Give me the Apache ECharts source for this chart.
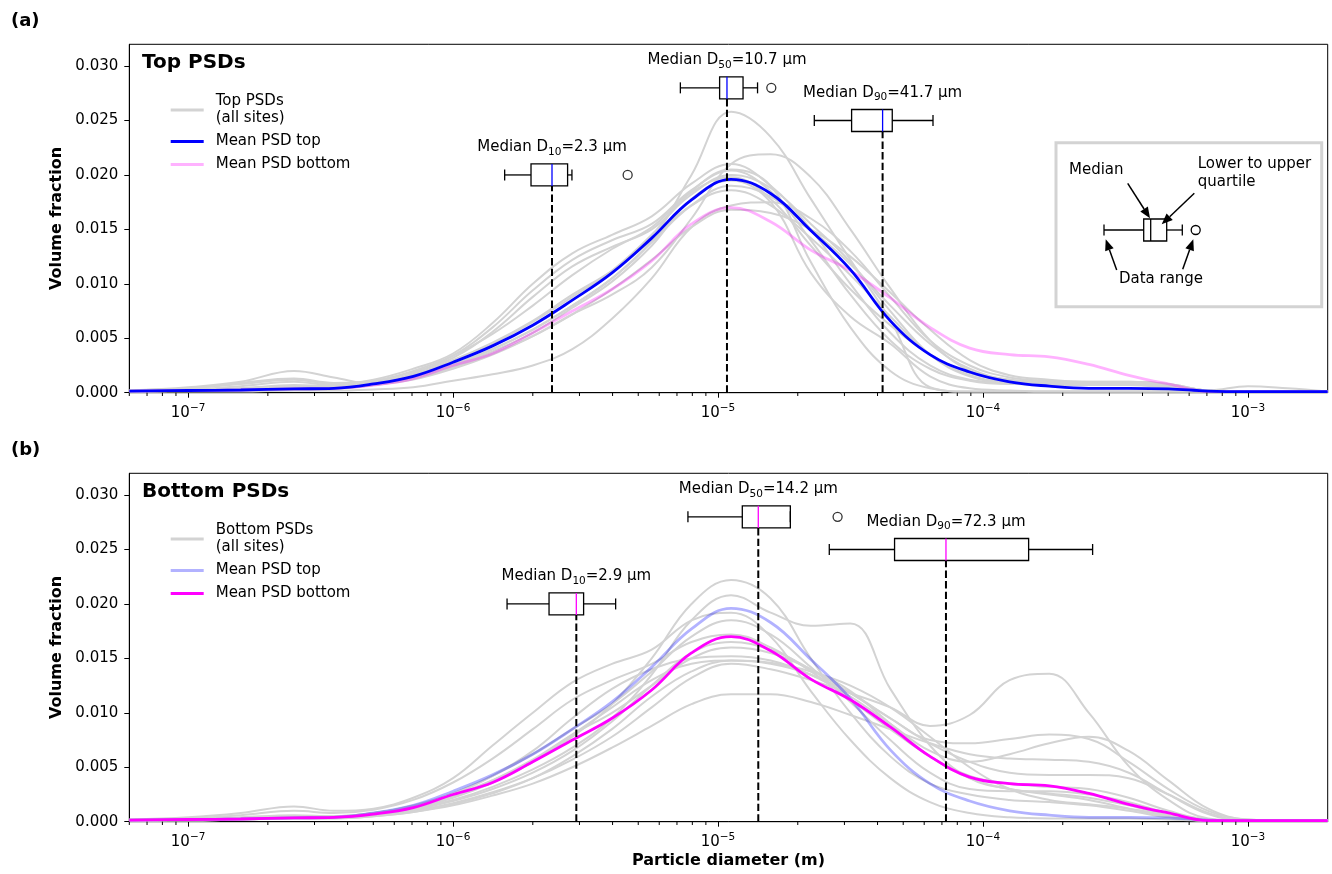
<!DOCTYPE html>
<html><head><meta charset="utf-8">
<script src="https://cdn.jsdelivr.net/npm/echarts@6/dist/echarts.min.js"></script>
<style>html,body{margin:0;padding:0;background:#fff}#c{width:1332px;height:874px}</style>
</head><body><div id="c"></div>
<script>
// ---------- DATA ----------
// particle diameters (m) of the sampled size classes
const diameters = [6.0e-8,1.00e-7,1.58e-7,2.51e-7,3.55e-7,5.01e-7,7.08e-7,1.00e-6,1.41e-6,2.00e-6,2.82e-6,3.98e-6,5.62e-6,7.94e-6,1.12e-5,1.58e-5,2.24e-5,3.16e-5,4.47e-5,6.31e-5,8.91e-5,1.26e-4,1.78e-4,2.51e-4,3.55e-4,5.01e-4,7.08e-4,1.00e-3,1.41e-3,2.00e-3];

const meanTop    = [0.00015,0.0002,0.00025,0.00035,0.0004,0.0008,0.0015,0.0028,0.0043,0.0062,0.0085,0.0110,0.0142,0.0177,0.0196,0.0183,0.0149,0.0113,0.0066,0.0035,0.0019,0.0010,0.0006,0.0004,0.0004,0.00035,0.00015,0.0001,0.0001,0.0001];
const meanBottom = [0.00015,0.0002,0.00025,0.00035,0.0004,0.0007,0.0013,0.0025,0.0036,0.0055,0.0075,0.0095,0.0121,0.0155,0.0170,0.0157,0.0131,0.0112,0.0087,0.0060,0.0041,0.0035,0.0033,0.0026,0.0016,0.0008,0.0001,0.0001,0.0001,0.0001];

const topPSDs = [
 [0.0001,0.0002,0.0003,0.0006,0.0005,0.0008,0.0014,0.0025,0.0040,0.0058,0.0080,0.0105,0.0140,0.0200,0.0258,0.0235,0.0178,0.0122,0.0067,0.0005,0.0001,0.0001,0.0001,0.0001,0.0001,0.0001,0.0001,0.0001,0.0001,0.0001],
 [0.0001,0.0002,0.0003,0.0004,0.0004,0.0007,0.0012,0.0022,0.0035,0.0052,0.0072,0.0090,0.0115,0.0160,0.0210,0.0219,0.0198,0.0150,0.0096,0.0048,0.0020,0.0012,0.0010,0.0009,0.0009,0.0007,0.0002,0.0001,0.0001,0.0001],
 [0.0002,0.0004,0.0008,0.0012,0.0008,0.0012,0.0022,0.0036,0.0064,0.0100,0.0128,0.0145,0.0162,0.0192,0.0210,0.0190,0.0150,0.0100,0.0055,0.0025,0.0012,0.0009,0.0008,0.0008,0.0008,0.0006,0.0002,0.0001,0.0001,0.0001],
 [0.0002,0.0005,0.0010,0.0020,0.0014,0.0008,0.0018,0.0034,0.0060,0.0094,0.0122,0.0140,0.0155,0.0186,0.0204,0.0185,0.0140,0.0090,0.0048,0.0022,0.0011,0.0008,0.0008,0.0007,0.0007,0.0005,0.0002,0.0006,0.0004,0.0001],
 [0.0001,0.0003,0.0006,0.0010,0.0007,0.0010,0.0019,0.0032,0.0056,0.0088,0.0116,0.0134,0.0150,0.0182,0.0200,0.0188,0.0155,0.0120,0.0075,0.0035,0.0015,0.0009,0.0008,0.0008,0.0008,0.0006,0.0002,0.0001,0.0001,0.0001],
 [0.0001,0.0002,0.0004,0.0006,0.0005,0.0008,0.0016,0.0028,0.0045,0.0065,0.0088,0.0112,0.0145,0.0185,0.0205,0.0190,0.0120,0.0060,0.0020,0.0004,0.0001,0.0001,0.0001,0.0001,0.0001,0.0001,0.0001,0.0001,0.0001,0.0001],
 [0.0001,0.0002,0.0003,0.0005,0.0005,0.0008,0.0015,0.0026,0.0040,0.0058,0.0080,0.0105,0.0138,0.0172,0.0190,0.0180,0.0150,0.0118,0.0080,0.0045,0.0022,0.0012,0.0010,0.0009,0.0009,0.0007,0.0002,0.0001,0.0001,0.0001],
 [0.0001,0.0001,0.0001,0.0002,0.0002,0.0003,0.0005,0.0011,0.0017,0.0025,0.0040,0.0068,0.0105,0.0152,0.0172,0.0175,0.0160,0.0130,0.0088,0.0048,0.0025,0.0014,0.0011,0.0010,0.0010,0.0008,0.0002,0.0001,0.0001,0.0001],
 [0.0001,0.0002,0.0003,0.0005,0.0004,0.0007,0.0013,0.0024,0.0038,0.0055,0.0078,0.0102,0.0135,0.0178,0.0195,0.0175,0.0110,0.0070,0.0045,0.0015,0.0004,0.0002,0.0001,0.0001,0.0001,0.0001,0.0001,0.0001,0.0001,0.0001],
 [0.0001,0.0002,0.0003,0.0004,0.0004,0.0007,0.0013,0.0023,0.0036,0.0052,0.0072,0.0095,0.0122,0.0152,0.0168,0.0165,0.0150,0.0125,0.0092,0.0058,0.0030,0.0016,0.0012,0.0010,0.0010,0.0008,0.0002,0.0001,0.0001,0.0001],
 [0.0002,0.0004,0.0009,0.0013,0.0009,0.0011,0.0020,0.0034,0.0054,0.0080,0.0108,0.0132,0.0152,0.0184,0.0198,0.0178,0.0135,0.0095,0.0062,0.0035,0.0018,0.0011,0.0009,0.0009,0.0008,0.0006,0.0002,0.0001,0.0001,0.0001],
 [0.0001,0.0002,0.0004,0.0007,0.0006,0.0009,0.0017,0.0030,0.0046,0.0066,0.0090,0.0112,0.0140,0.0172,0.0186,0.0172,0.0142,0.0108,0.0070,0.0035,0.0016,0.0009,0.0007,0.0007,0.0007,0.0005,0.0002,0.0001,0.0001,0.0001]
];

const bottomPSDs = [
 [0.0001,0.0002,0.0003,0.0005,0.0005,0.0008,0.0014,0.0024,0.0038,0.0055,0.0078,0.0108,0.0150,0.0200,0.0222,0.0205,0.0150,0.0100,0.0060,0.0035,0.0025,0.0020,0.0018,0.0015,0.0010,0.0004,0.0001,0.0001,0.0001,0.0001],
 [0.0001,0.0002,0.0003,0.0004,0.0004,0.0007,0.0012,0.0020,0.0032,0.0048,0.0068,0.0095,0.0135,0.0185,0.0208,0.0192,0.0180,0.0182,0.0122,0.0070,0.0040,0.0030,0.0025,0.0020,0.0012,0.0005,0.0001,0.0001,0.0001,0.0001],
 [0.0001,0.0002,0.0003,0.0004,0.0004,0.0006,0.0010,0.0017,0.0027,0.0040,0.0057,0.0078,0.0105,0.0132,0.0145,0.0140,0.0130,0.0118,0.0105,0.0088,0.0098,0.0130,0.0136,0.0100,0.0051,0.0020,0.0003,0.0001,0.0001,0.0001],
 [0.0001,0.0002,0.0003,0.0004,0.0004,0.0006,0.0011,0.0019,0.0030,0.0045,0.0065,0.0092,0.0125,0.0155,0.0165,0.0158,0.0140,0.0118,0.0095,0.0075,0.0072,0.0076,0.0080,0.0076,0.0055,0.0030,0.0010,0.0002,0.0001,0.0001],
 [0.0001,0.0002,0.0003,0.0005,0.0005,0.0008,0.0014,0.0025,0.0042,0.0065,0.0095,0.0122,0.0140,0.0150,0.0152,0.0148,0.0135,0.0115,0.0090,0.0065,0.0055,0.0062,0.0072,0.0078,0.0065,0.0038,0.0012,0.0002,0.0001,0.0001],
 [0.0001,0.0002,0.0003,0.0004,0.0004,0.0007,0.0012,0.0022,0.0036,0.0055,0.0080,0.0105,0.0130,0.0145,0.0148,0.0145,0.0135,0.0118,0.0095,0.0072,0.0055,0.0045,0.0043,0.0043,0.0040,0.0025,0.0008,0.0001,0.0001,0.0001],
 [0.0002,0.0004,0.0008,0.0014,0.0010,0.0012,0.0022,0.0040,0.0070,0.0100,0.0128,0.0145,0.0158,0.0185,0.0192,0.0170,0.0120,0.0075,0.0040,0.0018,0.0008,0.0004,0.0003,0.0003,0.0003,0.0002,0.0001,0.0001,0.0001,0.0001],
 [0.0002,0.0003,0.0006,0.0010,0.0008,0.0011,0.0020,0.0036,0.0058,0.0085,0.0112,0.0130,0.0145,0.0165,0.0172,0.0160,0.0138,0.0112,0.0085,0.0060,0.0042,0.0035,0.0032,0.0030,0.0022,0.0010,0.0002,0.0001,0.0001,0.0001],
 [0.0001,0.0001,0.0002,0.0003,0.0003,0.0005,0.0009,0.0015,0.0024,0.0035,0.0050,0.0068,0.0088,0.0108,0.0117,0.0117,0.0110,0.0098,0.0085,0.0072,0.0062,0.0058,0.0057,0.0055,0.0045,0.0025,0.0007,0.0001,0.0001,0.0001],
 [0.0001,0.0002,0.0004,0.0006,0.0005,0.0008,0.0015,0.0026,0.0042,0.0062,0.0085,0.0108,0.0138,0.0170,0.0185,0.0172,0.0142,0.0110,0.0075,0.0045,0.0030,0.0028,0.0028,0.0025,0.0018,0.0008,0.0002,0.0001,0.0001,0.0001],
 [0.0001,0.0001,0.0002,0.0003,0.0003,0.0005,0.0009,0.0016,0.0026,0.0040,0.0060,0.0085,0.0115,0.0138,0.0148,0.0146,0.0138,0.0125,0.0105,0.0078,0.0050,0.0030,0.0020,0.0016,0.0012,0.0006,0.0001,0.0001,0.0001,0.0001],
 [0.0001,0.0002,0.0003,0.0005,0.0004,0.0007,0.0013,0.0023,0.0038,0.0057,0.0080,0.0100,0.0125,0.0150,0.0160,0.0155,0.0140,0.0120,0.0090,0.0060,0.0040,0.0030,0.0026,0.0022,0.0015,0.0006,0.0001,0.0001,0.0001,0.0001]
];

// box plots: [whisker low, Q1, median, Q3, whisker high, vertical position]
const boxesTop = [
 [1.566e-6, 1.969e-6, 2.363e-6, 2.706e-6, 2.81e-6, 0.0200],
 [7.21e-6, 1.014e-5, 1.081e-5, 1.243e-5, 1.41e-5, 0.0280],
 [2.309e-5, 3.193e-5, 4.18e-5, 4.546e-5, 6.477e-5, 0.0250]
];
const outliersTop = [[4.56e-6, 0.0200], [1.589e-5, 0.0280]];
const boxesBottom = [
 [1.599e-6, 2.303e-6, 2.919e-6, 3.11e-6, 4.108e-6, 0.0200],
 [7.7e-6, 1.235e-5, 1.419e-5, 1.875e-5, 1.875e-5, 0.0280],
 [2.63e-5, 4.638e-5, 7.25e-5, 1.487e-4, 2.593e-4, 0.0250]
];
const outliersBottom = [[2.827e-5, 0.0280]];
const percentiles = ['10', '50', '90'];
const medianTextTop = ['2.3', '10.7', '41.7'];
const medianTextBottom = ['2.9', '14.2', '72.3'];

const xMin = 6.0e-8, xMax = 2.0e-3;
const yMin = 0, yMax = 0.032, yStep = 0.005;

// ---------- STYLE ----------
const FONT = '"DejaVu Sans", sans-serif';
const GRAY = '#d3d3d3';
const BLUE = '#0000ff', MAGENTA = '#ff00ff';
const BLUE_L = 'rgba(0,0,255,0.3)', MAGENTA_L = 'rgba(255,0,255,0.3)';
const BOX_H = 22;

const minorTicks = [];
for (let e = -8; e <= -3; e++) for (let m = 2; m <= 9; m++) {
  const v = m * Math.pow(10, e);
  if (v > xMin && v < xMax) minorTicks.push(v);
}

function supLabel(v) {
  const e = Math.log10(v), r = Math.round(e);
  if (Math.abs(e - r) > 1e-6) return '';
  return '{b|10}{s|' + (r < 0 ? '\u2212' : '') + Math.abs(r) + '}';
}

const grids = [
  {left: 129.3, top: 44.3, width: 1198.4, height: 348.4},
  {left: 129.3, top: 473.3, width: 1198.4, height: 348.4}
].map(g => Object.assign(g, {show: true, borderColor: '#000', borderWidth: 1, backgroundColor: 'transparent', containLabel: false, outerBoundsMode: 'none'}));

function xAxisCfg(i, withName) {
  return {
    type: 'log', logBase: 10, gridIndex: i, min: xMin, max: xMax,
    axisLine: {show: true, onZero: false, lineStyle: {color: '#000', width: 1}},
    axisTick: {show: true, length: 5, lineStyle: {color: '#000', width: 1}},
    splitLine: {show: false}, minorTick: {show: false},
    axisLabel: {
      showMinLabel: false, showMaxLabel: false, margin: 10, formatter: supLabel,
      rich: {
        b: {fontFamily: FONT, fontSize: 15, color: '#000', lineHeight: 20, verticalAlign: 'middle'},
        s: {fontFamily: FONT, fontSize: 10.5, color: '#000', lineHeight: 9, verticalAlign: 'top'}
      }
    },
    name: withName ? 'Particle diameter (m)' : '', nameLocation: 'middle', nameGap: 31,
    nameTextStyle: {fontFamily: FONT, fontSize: 16, fontWeight: 'bold', color: '#000'}
  };
}
function yAxisCfg(i) {
  return {
    type: 'value', gridIndex: i, min: yMin, max: yMax, interval: yStep,
    axisLine: {show: true, onZero: false, lineStyle: {color: '#000', width: 1}},
    axisTick: {show: true, length: 5, lineStyle: {color: '#000', width: 1}},
    splitLine: {show: false},
    axisLabel: {showMaxLabel: false, margin: 11, formatter: v => v.toFixed(3), fontFamily: FONT, fontSize: 15, color: '#000'},
    name: 'Volume fraction', nameLocation: 'middle', nameGap: 62,
    nameTextStyle: {fontFamily: FONT, fontSize: 16, fontWeight: 'bold', color: '#000'}
  };
}

function pts(arr) { return diameters.map((d, k) => [d, arr[k]]); }
function lineSeries(p, name, arr, color, width, z) {
  return {
    type: 'line', name, xAxisIndex: p, yAxisIndex: p, data: pts(arr),
    symbol: 'none', showSymbol: false, smooth: 0.4, silent: true, z,
    lineStyle: {color, width}, itemStyle: {color}, emphasis: {disabled: true}
  };
}

const subRich = {
  n: {fontFamily: FONT, fontSize: 15, fill: '#000', color: '#000', lineHeight: 20, verticalAlign: 'middle'},
  s: {fontFamily: FONT, fontSize: 10.5, fill: '#000', color: '#000', lineHeight: 13, verticalAlign: 'bottom'}
};

function boxSeries(p, boxes, medTexts, medColor) {
  return {
    type: 'custom', xAxisIndex: p, yAxisIndex: p, silent: true, z: 6,
    data: boxes, encode: {x: [0, 1, 2, 3, 4], y: 5},
    renderItem(params, api) {
      const i = params.dataIndex;
      const yc = api.value(5);
      const c = k => api.coord([api.value(k), yc]);
      const lo = c(0), q1 = c(1), md = c(2), q3 = c(3), hi = c(4);
      const base = api.coord([api.value(2), 0]);
      const cy = md[1], h = BOX_H / 2, cap = BOX_H / 4;
      const st = {stroke: '#000', lineWidth: 1.3, fill: 'none'};
      return {type: 'group', children: [
        {type: 'line', shape: {x1: md[0], y1: base[1], x2: md[0], y2: cy + h}, style: {stroke: '#000', lineWidth: 2, lineDash: [7.4, 3.2]}},
        {type: 'line', shape: {x1: lo[0], y1: cy, x2: q1[0], y2: cy}, style: st},
        {type: 'line', shape: {x1: q3[0], y1: cy, x2: hi[0], y2: cy}, style: st},
        {type: 'line', shape: {x1: lo[0], y1: cy - cap, x2: lo[0], y2: cy + cap}, style: st},
        {type: 'line', shape: {x1: hi[0], y1: cy - cap, x2: hi[0], y2: cy + cap}, style: st},
        {type: 'rect', shape: {x: q1[0], y: cy - h, width: q3[0] - q1[0], height: 2 * h}, style: st},
        {type: 'line', shape: {x1: md[0], y1: cy - h, x2: md[0], y2: cy + h}, style: {stroke: medColor, lineWidth: 1.3}},
        {type: 'text', x: md[0], y: cy - h - 16.5, style: {
          text: '{n|Median D}{s|' + percentiles[i] + '}{n|=' + medTexts[i] + ' \u00b5m}',
          rich: subRich, align: 'center', verticalAlign: 'middle', fill: '#000'}}
      ]};
    }
  };
}
function outlierSeries(p, data) {
  return {type: 'scatter', xAxisIndex: p, yAxisIndex: p, data, symbol: 'circle', symbolSize: 9, silent: true, z: 6,
    itemStyle: {color: 'rgba(0,0,0,0)', borderColor: '#000', borderWidth: 1.3}};
}
function minorSeries(p) {
  return {type: 'custom', xAxisIndex: p, yAxisIndex: p, silent: true, z: 7,
    data: minorTicks.map(v => [v, 0]),
    renderItem(params, api) {
      const pt = api.coord([api.value(0), 0]);
      return {type: 'line', shape: {x1: pt[0], y1: pt[1], x2: pt[0], y2: pt[1] + 3.3}, style: {stroke: '#000', lineWidth: 1}};
    }};
}

const TOP_GRAY = 'Top PSDs\n(all sites)', BOT_GRAY = 'Bottom PSDs\n(all sites)';
const series = [];
topPSDs.forEach(a => series.push(lineSeries(0, TOP_GRAY, a, GRAY, 2, 2)));
series.push(lineSeries(0, 'Mean PSD top', meanTop, BLUE, 2.8, 4));
series.push(lineSeries(0, 'Mean PSD bottom', meanBottom, MAGENTA_L, 2.8, 3));
series.push(boxSeries(0, boxesTop, medianTextTop, BLUE));
series.push(outlierSeries(0, outliersTop));
series.push(minorSeries(0));
bottomPSDs.forEach(a => series.push(lineSeries(1, BOT_GRAY, a, GRAY, 2, 2)));
series.push(lineSeries(1, 'Mean PSD top ', meanTop, BLUE_L, 2.8, 3));
series.push(lineSeries(1, 'Mean PSD bottom ', meanBottom, MAGENTA, 2.8, 4));
series.push(boxSeries(1, boxesBottom, medianTextBottom, MAGENTA));
series.push(outlierSeries(1, outliersBottom));
series.push(minorSeries(1));

function legendCfg(top, names) {
  return {
    show: true, orient: 'vertical', left: 170.7, top, padding: 0, itemGap: 6, itemWidth: 33, itemHeight: 3,
    icon: 'rect', selectedMode: false, data: names,
    itemStyle: {borderWidth: 0},
    textStyle: {fontFamily: FONT, fontSize: 15, color: '#000', lineHeight: 17, padding: [0, 0, 0, 7]}
  };
}

function arrow(x1, y1, x2, y2) {
  const dx = x2 - x1, dy = y2 - y1, L = Math.hypot(dx, dy), ux = dx / L, uy = dy / L;
  const hl = 11, hw = 4.5, bx = x2 - ux * hl, by = y2 - uy * hl;
  return [
    {type: 'line', shape: {x1, y1, x2: bx, y2: by}, style: {stroke: '#000', lineWidth: 1.5}},
    {type: 'polygon', shape: {points: [[x2, y2], [bx - uy * hw, by + ux * hw], [bx + uy * hw, by - ux * hw]]}, style: {fill: '#000'}}
  ];
}
function txt(x, y, text, font, align) {
  return {type: 'text', x, y, style: {text, font, fill: '#000', align: align || 'left', verticalAlign: 'middle'}};
}
const F15 = '15px ' + FONT, FB = s => 'bold ' + s + 'px ' + FONT;
const st = {stroke: '#000', lineWidth: 1.3, fill: 'none'};
const inset = [
  {type: 'rect', shape: {x: 1056, y: 142.7, width: 265.7, height: 164}, style: {stroke: '#d3d3d3', lineWidth: 3, fill: '#fff'}, z: 10},
  {type: 'line', shape: {x1: 1104, y1: 230, x2: 1143.7, y2: 230}, style: st, z: 11},
  {type: 'line', shape: {x1: 1104, y1: 224.5, x2: 1104, y2: 235.5}, style: st, z: 11},
  {type: 'rect', shape: {x: 1143.7, y: 219, width: 23, height: 22}, style: st, z: 11},
  {type: 'line', shape: {x1: 1150.7, y1: 219, x2: 1150.7, y2: 241}, style: st, z: 11},
  {type: 'line', shape: {x1: 1166.7, y1: 230, x2: 1182.3, y2: 230}, style: st, z: 11},
  {type: 'line', shape: {x1: 1182.3, y1: 224.5, x2: 1182.3, y2: 235.5}, style: st, z: 11},
  {type: 'circle', shape: {cx: 1195.7, cy: 230, r: 4.5}, style: st, z: 11},
  Object.assign(txt(1069, 170, 'Median', F15), {z: 11}),
  Object.assign(txt(1197.7, 164, 'Lower to upper', F15), {z: 11}),
  Object.assign(txt(1197.7, 181.7, 'quartile', F15), {z: 11}),
  Object.assign(txt(1161, 279.3, 'Data range', F15, 'center'), {z: 11}),
  ...arrow(1127.7, 183.3, 1150, 218.3).map(e => Object.assign(e, {z: 11})),
  ...arrow(1194.3, 193.3, 1161.7, 224.3).map(e => Object.assign(e, {z: 11})),
  ...arrow(1116.7, 270, 1105.7, 239.3).map(e => Object.assign(e, {z: 11})),
  ...arrow(1182.7, 269.3, 1193.3, 239.3).map(e => Object.assign(e, {z: 11}))
];

const chart = echarts.init(document.getElementById('c'), null, {renderer: 'canvas'});
chart.setOption({
  animation: false,
  backgroundColor: '#fff',
  grid: grids,
  xAxis: [xAxisCfg(0, false), xAxisCfg(1, true)],
  yAxis: [yAxisCfg(0), yAxisCfg(1)],
  legend: [
    legendCfg(93, [TOP_GRAY, 'Mean PSD top', 'Mean PSD bottom']),
    legendCfg(522, [BOT_GRAY, 'Mean PSD top ', 'Mean PSD bottom '])
  ],
  series,
  graphic: [
    txt(11, 21, '(a)', FB(18)),
    txt(11, 450, '(b)', FB(18)),
    txt(142, 63, 'Top PSDs', FB(20)),
    txt(142, 492, 'Bottom PSDs', FB(20)),
    ...inset
  ]
});
</script></body></html>
